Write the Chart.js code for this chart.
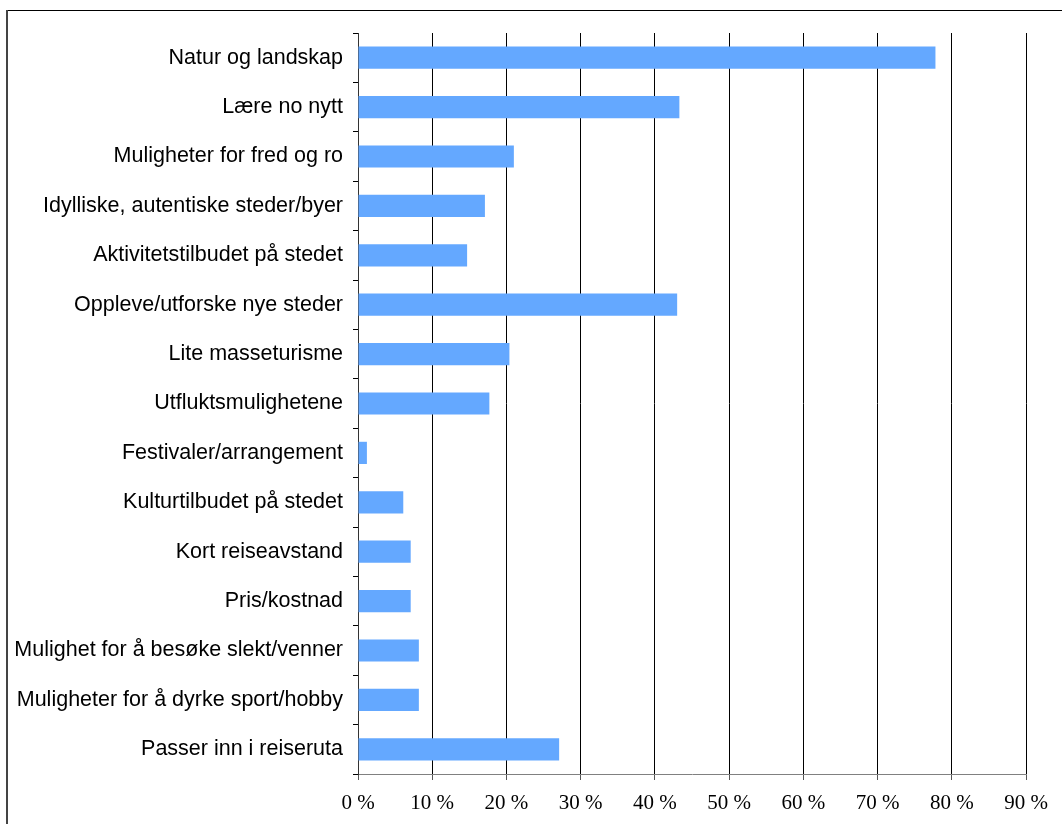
<!DOCTYPE html>
<html>
<head>
<meta charset="utf-8">
<script src="https://cdn.jsdelivr.net/npm/chart.js@4/dist/chart.umd.min.js"></script>
<style>
  body { margin: 0; background: #fff; }
  #wrap { width: 1062px; height: 824px; }
</style>
</head>
<body>
<div id="wrap"><canvas id="graphCanvas" width="1062" height="824"></canvas></div>
<script>
var categories = [
    'Natur og landskap',
    'Lære no nytt',
    'Muligheter for fred og ro',
    'Idylliske, autentiske steder/byer',
    'Aktivitetstilbudet på stedet',
    'Oppleve/utforske nye steder',
    'Lite masseturisme',
    'Utfluktsmulighetene',
    'Festivaler/arrangement',
    'Kulturtilbudet på stedet',
    'Kort reiseavstand',
    'Pris/kostnad',
    'Mulighet for å besøke slekt/venner',
    'Muligheter for å dyrke sport/hobby',
    'Passer inn i reiseruta'
];
var percent = [77.8, 43.3, 21.0, 17.1, 14.7, 43.0, 20.4, 17.7, 1.2, 6.1, 7.1, 7.1, 8.2, 8.2, 27.1];
var xMin = 0;
var xMax = 90;
var xStep = 10;

// thin frame round the picture, like the original export
var framePlugin = {
    id: 'frame',
    afterDraw: function (chart) {
        var ctx = chart.ctx;
        ctx.save();
        ctx.strokeStyle = '#000';
        ctx.lineWidth = 1;
        ctx.beginPath();
        ctx.moveTo(6, 10.5);
        ctx.lineTo(1062, 10.5);
        ctx.stroke();
        ctx.strokeStyle = '#444';
        ctx.lineWidth = 2;
        ctx.beginPath();
        ctx.moveTo(7, 10);
        ctx.lineTo(7, 824);
        ctx.stroke();
        ctx.restore();
    }
};

var chartdata = {
    labels: categories,
    datasets: [
        {
            label: 'Andel',
            backgroundColor: '#64a8ff',
            borderWidth: 0,
            data: percent,
            barPercentage: 0.45,
            categoryPercentage: 1.0
        }
    ]
};

var graphTarget = document.getElementById('graphCanvas');

var barGraph = new Chart(graphTarget, {
    type: 'bar',
    data: chartdata,
    plugins: [framePlugin],
    options: {
        indexAxis: 'y',
        responsive: false,
        animation: false,
        layout: { padding: { top: 33, right: 36, left: 0, bottom: 0 } },
        plugins: {
            legend: { display: false },
            tooltip: { enabled: false }
        },
        scales: {
            x: {
                min: xMin,
                max: xMax,
                afterFit: function (scale) { scale.height = 50; },
                ticks: {
                    stepSize: xStep,
                    padding: 11,
                    color: '#000',
                    font: { family: 'Liberation Serif', size: 21 },
                    callback: function (v) { return v + ' %'; }
                },
                grid: {
                    color: '#000',
                    lineWidth: 1,
                    drawTicks: true,
                    tickLength: 6,
                    tickColor: '#555'
                },
                border: { display: true, color: '#808080', width: 1 }
            },
            y: {
                afterFit: function (scale) { scale.width = 358; },
                ticks: {
                    padding: 10,
                    color: '#000',
                    autoSkip: false,
                    font: { family: 'Liberation Sans', size: 21.5 }
                },
                grid: {
                    offset: true,
                    drawOnChartArea: false,
                    drawTicks: true,
                    tickLength: 5,
                    tickColor: '#000'
                },
                border: { display: true, color: '#333', width: 1 }
            }
        }
    }
});
</script>
</body>
</html>
